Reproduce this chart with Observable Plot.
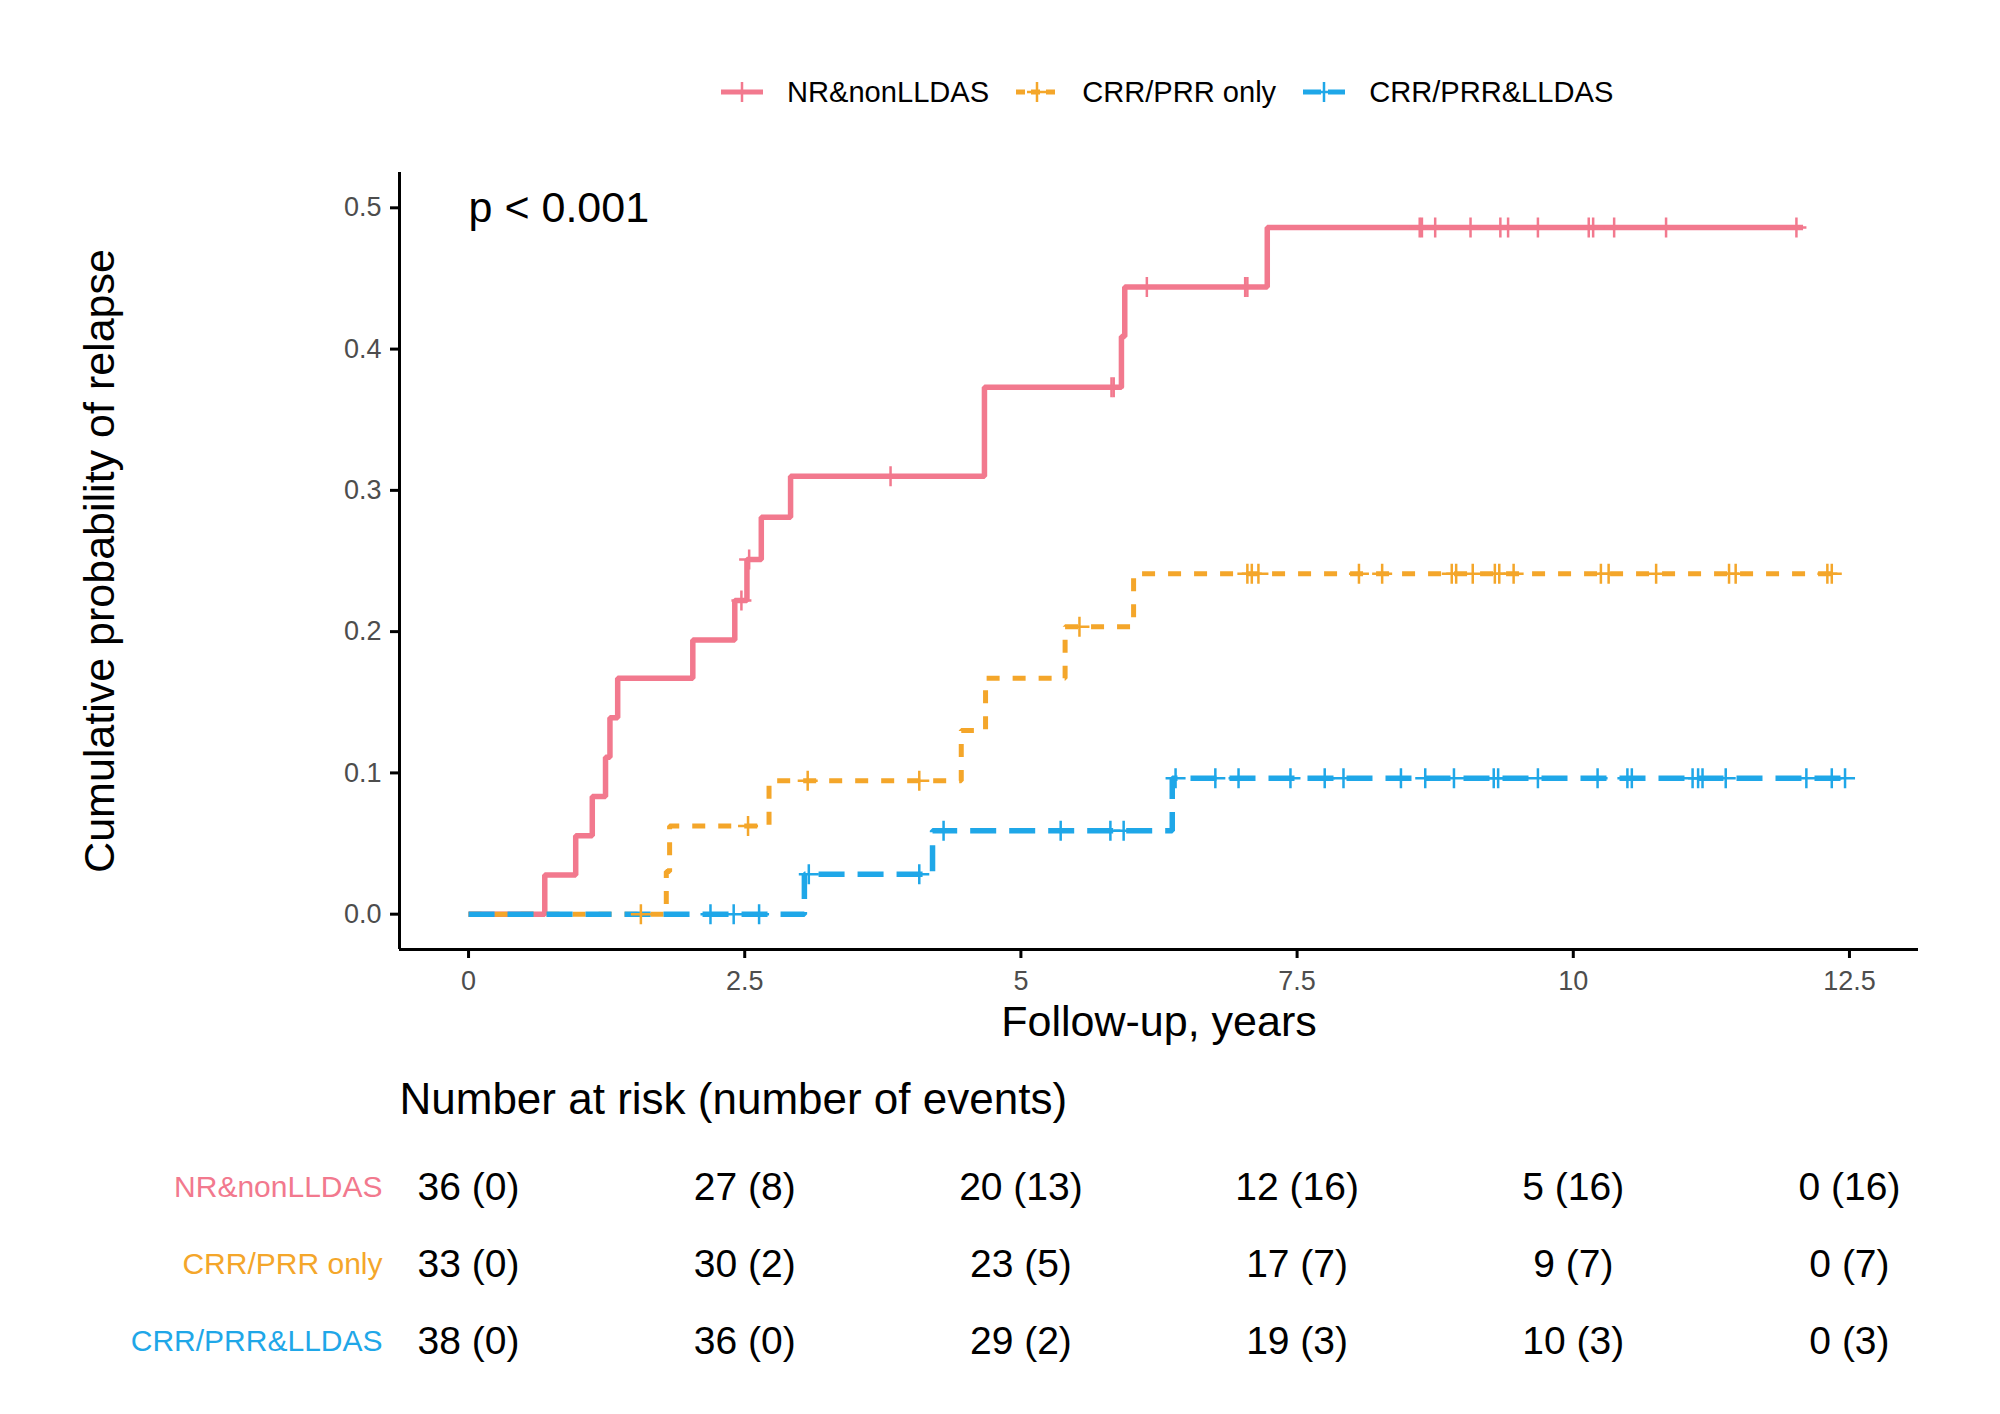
<!DOCTYPE html>
<html>
<head>
<meta charset="utf-8">
<script src="https://cdn.jsdelivr.net/npm/d3@7"></script>
<script src="https://cdn.jsdelivr.net/npm/@observablehq/plot@0.6"></script>
<style>
  html, body { margin: 0; padding: 0; background: #fff; }
  #root { position: relative; width: 2000px; height: 1414px; background: #fff; font-family: "Liberation Sans", Arial, sans-serif; }
  #legend { position: absolute; left: 721px; top: 72px; height: 40px; display: flex; align-items: center; gap: 27px; }
  .item { display: flex; align-items: center; gap: 24px; font-size: 29.1px; color: #000; }
  #main { position: absolute; left: 0; top: 130px; }
  #risk { position: absolute; left: 0; top: 1060px; }
</style>
</head>
<body>
<div id="root">
  <div id="legend"></div>
  <div id="main"></div>
  <div id="risk"></div>
</div>
<script>
// ---------- data ----------
const groups = ["NR&nonLLDAS", "CRR/PRR only", "CRR/PRR&LLDAS"];
const colors = ["#F2798E", "#F4A62A", "#1FA7E8"];
const dashes = [null, "13,13", "26,13"];

// NR&nonLLDAS
const nrEventTimes = [0.69, 0.97, 1.12, 1.24, 1.28, 1.35, 2.03, 2.41, 2.52, 2.65, 2.915, 4.67, 5.91, 5.94, 7.23];
const nrCumInc     = [0.0278, 0.0556, 0.0833, 0.111, 0.139, 0.167, 0.194, 0.222, 0.251, 0.281, 0.310, 0.373, 0.409, 0.444, 0.486];
const nrCensor     = [2.47, 2.54, 3.82, 5.82, 5.84, 6.14, 7.03, 7.05, 8.61, 8.63, 8.75, 9.07, 9.34, 9.41, 9.68, 10.14, 10.18, 10.37, 10.84, 12.02];
const nrEnd = 12.08;

// CRR/PRR only
const crrEventTimes = [1.79, 1.82, 2.72, 4.46, 4.68, 5.40, 6.02];
const crrCumInc     = [0.0303, 0.0625, 0.0944, 0.130, 0.167, 0.2035, 0.241];
const crrCensor     = [1.56, 2.53, 3.07, 4.08, 5.53, 7.05, 7.09, 7.15, 8.06, 8.27, 8.90, 8.94, 9.09, 9.29, 9.33, 9.46, 10.25, 10.32, 10.75, 11.41, 11.47, 12.30, 12.34];
const crrEnd = 12.43;

// CRR/PRR&LLDAS
const llEventTimes = [3.04, 4.20, 6.37];
const llCumInc     = [0.0283, 0.059, 0.0963];
const llCensor     = [2.19, 2.40, 2.63, 3.08, 4.08, 4.30, 5.36, 5.81, 5.93, 6.40, 6.76, 6.97, 7.44, 7.75, 7.92, 8.44, 8.66, 8.92, 9.28, 9.32, 9.68, 10.22, 10.49, 10.53, 11.08, 11.13, 11.17, 11.38, 12.11, 12.34, 12.46];
const llEnd = 12.50;

// axis ticks
const xTicks = [0, 2.5, 5, 7.5, 10, 12.5];
const yTicks = [0, 0.1, 0.2, 0.3, 0.4, 0.5];

// number at risk (number of events)
const riskTimes = [0, 2.5, 5, 7.5, 10, 12.5];
const nrAtRisk  = [36, 27, 20, 12, 5, 0];
const nrEvents  = [0, 8, 13, 16, 16, 16];
const crrAtRisk = [33, 30, 23, 17, 9, 0];
const crrEvents = [0, 2, 5, 7, 7, 7];
const llAtRisk  = [38, 36, 29, 19, 10, 0];
const llEvents  = [0, 0, 2, 3, 3, 3];

const pLabel = "p < 0.001";

// ---------- build tables ----------
const series = [
  {g: groups[0], t: nrEventTimes, p: nrCumInc, c: nrCensor, end: nrEnd},
  {g: groups[1], t: crrEventTimes, p: crrCumInc, c: crrCensor, end: crrEnd},
  {g: groups[2], t: llEventTimes, p: llCumInc, c: llCensor, end: llEnd}
];
function stepValue(s, time) {
  let v = 0;
  s.t.forEach((tt, i) => { if (tt <= time) v = s.p[i]; });
  return v;
}
const curves = series.map(s => {
  const pts = [{group: s.g, t: 0, p: 0}];
  s.t.forEach((tt, i) => pts.push({group: s.g, t: tt, p: s.p[i]}));
  pts.push({group: s.g, t: s.end, p: s.p[s.p.length - 1]});
  return pts;
});
const censors = series.map(s => s.c.map(tt => ({group: s.g, t: tt, p: stepValue(s, tt)})));

const riskRows = [];
[[nrAtRisk, nrEvents], [crrAtRisk, crrEvents], [llAtRisk, llEvents]].forEach(([a, e], gi) => {
  riskTimes.forEach((tt, i) => riskRows.push({group: groups[gi], t: tt, label: `${a[i]} (${e[i]})`}));
});

// custom "+" symbol (line cross)
const plusSymbol = {
  draw(context, size) {
    const r = Math.sqrt(size / Math.PI);
    context.moveTo(0, -r); context.lineTo(0, r);
    context.moveTo(-r, 0); context.lineTo(r, 0);
  }
};

const font = "Liberation Sans, Arial, sans-serif";
const xDomain = [-0.625, 13.125];
const yDomain = [-0.025, 0.525];

// ---------- main chart ----------
const lineMarks = [];
curves.forEach((pts, i) => {
  lineMarks.push(Plot.line(pts, {
    x: "t", y: "p", curve: "step-after", stroke: colors[i], strokeWidth: i === 1 ? 5 : 5.5,
    strokeDasharray: dashes[i] || undefined, strokeLinecap: "butt", strokeLinejoin: "miter"
  }));
});
censors.forEach((pts, i) => {
  lineMarks.push(Plot.dot(pts, {
    x: "t", y: "p", symbol: plusSymbol, r: 10, stroke: colors[i], strokeWidth: 2.5, fill: "none"
  }));
});

const main = Plot.plot({
  width: 2000, height: 930,
  marginLeft: 399, marginRight: 82, marginTop: 42, marginBottom: 111,
  x: {domain: xDomain},
  y: {domain: yDomain},
  style: {fontFamily: font, background: "white", overflow: "visible"},
  marks: [
    Plot.axisX({ticks: xTicks, tickSize: 9, tickPadding: 12, fontSize: 27, stroke: "black", strokeWidth: 3, fill: "#4D4D4D", label: null, tickFormat: d => String(d)}),
    Plot.axisY({ticks: yTicks, tickSize: 9, tickPadding: 9, fontSize: 27, stroke: "black", strokeWidth: 3, fill: "#4D4D4D", label: null, tickFormat: d3.format(".1f")}),
    Plot.ruleX([xDomain[0]], {stroke: "black", strokeWidth: 3}),
    Plot.ruleY([yDomain[0]], {stroke: "black", strokeWidth: 3}),
    ...lineMarks,
    Plot.text([pLabel], {x: 0, y: 0.5, text: d => d, textAnchor: "start", lineAnchor: "middle", fontSize: 43, fill: "black"}),
    Plot.text(["Follow-up, years"], {frameAnchor: "bottom", dy: 73, text: d => d, lineAnchor: "middle", fontSize: 43, fill: "black"}),
    Plot.text(["Cumulative probability of relapse"], {frameAnchor: "left", dx: -299, rotate: -90, text: d => d, textAnchor: "middle", lineAnchor: "middle", fontSize: 43, fill: "black"})
  ]
});
document.getElementById("main").appendChild(main);

// ---------- risk table ----------
const risk = Plot.plot({
  width: 2000, height: 354,
  marginLeft: 399, marginRight: 82, marginTop: 0, marginBottom: 0,
  x: {domain: xDomain, axis: null},
  y: {type: "point", domain: groups, range: [126, 281], padding: 0, axis: null},
  color: {domain: groups, range: colors},
  style: {fontFamily: font, background: "white", overflow: "visible"},
  marks: [
    Plot.text(["Number at risk (number of events)"], {frameAnchor: "top-left", dy: 39, text: d => d, textAnchor: "start", lineAnchor: "middle", fontSize: 44, fill: "black"}),
    Plot.text(riskRows, {x: "t", y: "group", text: "label", fontSize: 39, fill: "black", lineAnchor: "middle"}),
    Plot.text(groups, {x: () => xDomain[0], y: d => d, text: d => d, fill: d => d, textAnchor: "end", dx: -17, fontSize: 30, lineAnchor: "middle"})
  ]
});
document.getElementById("risk").appendChild(risk);

// ---------- legend ----------
const legend = document.getElementById("legend");
groups.forEach((g, i) => {
  const item = document.createElement("div");
  item.className = "item";
  const key = d3.create("svg").attr("width", 42).attr("height", 30);
  key.append("line").attr("x1", 0).attr("x2", 42).attr("y1", 15).attr("y2", 15)
    .attr("stroke", colors[i]).attr("stroke-width", 5)
    .attr("stroke-dasharray", i === 0 ? null : (i === 1 ? "9,6" : "18,7"));
  key.append("path").attr("d", "M21,5V25M11,15H31").attr("stroke", colors[i]).attr("stroke-width", 2.5).attr("fill", "none");
  item.appendChild(key.node());
  const span = document.createElement("span");
  span.textContent = g;
  item.appendChild(span);
  legend.appendChild(item);
});
</script>
</body>
</html>
